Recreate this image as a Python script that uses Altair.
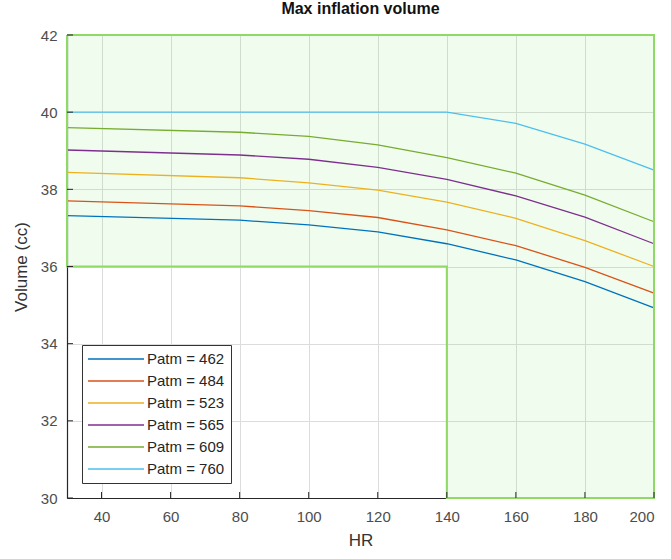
import altair as alt
import pandas as pd

# Heart rate samples and the maximum inflation volume for each atmospheric pressure
hr = [30, 80, 100, 120, 140, 160, 180, 200]
patm_labels = ["Patm = 462", "Patm = 484", "Patm = 523", "Patm = 565", "Patm = 609", "Patm = 760"]
v462 = [37.32, 37.20, 37.08, 36.90, 36.59, 36.17, 35.61, 34.93]
v484 = [37.70, 37.57, 37.45, 37.27, 36.95, 36.54, 35.98, 35.31]
v523 = [38.44, 38.30, 38.17, 37.98, 37.67, 37.25, 36.67, 36.00]
v565 = [39.02, 38.89, 38.78, 38.57, 38.26, 37.83, 37.28, 36.59]
v609 = [39.60, 39.48, 39.37, 39.15, 38.82, 38.42, 37.85, 37.16]
v760 = [40.00, 40.00, 40.00, 40.00, 40.00, 39.71, 39.17, 38.50]
series = [v462, v484, v523, v565, v609, v760]
colors = ["#0072BD", "#D95319", "#EDB120", "#7E2F8E", "#77AC30", "#4DBEEE"]

# Shaded operating region as two rectangles, plus its outline
rect_x1 = [30, 140]
rect_x2 = [200, 200]
rect_y1 = [36, 30]
rect_y2 = [42, 36]
edge_x = [30, 200, 200, 140, 140, 30, 30]
edge_y = [42, 42, 30, 30, 36, 36, 42]

x_ticks = [40, 60, 80, 100, 120, 140, 160, 180, 200]
y_ticks = [30, 32, 34, 36, 38, 40, 42]

rows = []
for lab, vals in zip(patm_labels, series):
    for h, v in zip(hr, vals):
        rows.append({"HR": h, "Volume": v, "series": lab})
lines_df = pd.DataFrame(rows)

rect_df = pd.DataFrame({"x1": rect_x1, "x2": rect_x2, "y1": rect_y1, "y2": rect_y2})
edge_df = pd.DataFrame({"x": edge_x, "y": edge_y, "i": list(range(len(edge_x)))})

xs = alt.Scale(domain=[30, 200], nice=False, zero=False)
ys = alt.Scale(domain=[30, 42], nice=False, zero=False)

FONT = "Liberation Sans"

x_axis = alt.Axis(values=x_ticks, title="HR", grid=True, gridColor="#dcdcdc",
                  tickSize=0, domainColor="#262626", domainWidth=1.2,
                  labelFont=FONT, labelFontSize=15, labelColor="#4d4d4d", labelPadding=11,
                  titleFont=FONT, titleFontSize=17, titleFontWeight="normal",
                  titleColor="#333333", titlePadding=8)
y_axis = alt.Axis(values=y_ticks, title="Volume (cc)", grid=True, gridColor="#dcdcdc",
                  tickSize=0, domainColor="#262626", domainWidth=1.2,
                  labelFont=FONT, labelFontSize=15, labelColor="#4d4d4d", labelPadding=10,
                  titleFont=FONT, titleFontSize=17, titleFontWeight="normal",
                  titleColor="#333333", titlePadding=10)

region = alt.Chart(rect_df).mark_rect(fill="#69eb55", fillOpacity=0.1).encode(
    x=alt.X("x1:Q", scale=xs, axis=x_axis),
    x2="x2:Q",
    y=alt.Y("y1:Q", scale=ys, axis=y_axis),
    y2="y2:Q",
)

edge = alt.Chart(edge_df).mark_line(color="#8fd966", strokeWidth=2).encode(
    x=alt.X("x:Q", scale=xs),
    y=alt.Y("y:Q", scale=ys),
    order="i:Q",
)

# Long horizontal line swatch for the legend entries
swatch = "M-4,0H4"

curves = alt.Chart(lines_df).mark_line(strokeWidth=1.3).encode(
    x=alt.X("HR:Q", scale=xs),
    y=alt.Y("Volume:Q", scale=ys),
    color=alt.Color("series:N", sort=patm_labels,
                    scale=alt.Scale(domain=patm_labels, range=colors),
                    legend=alt.Legend(title=None, orient="bottom-left", offset=15,
                                      symbolType=swatch, symbolSize=196,
                                      symbolStrokeWidth=1.3, symbolOffset=20,
                                      labelOffset=23,
                                      labelFont=FONT, labelFontSize=15,
                                      labelColor="#262626", rowPadding=6,
                                      fillColor="white", strokeColor="#333333",
                                      padding=6)),
)

# Inward tick marks along the bottom and left axes
xtick_df = pd.DataFrame({"x": x_ticks})
ytick_df = pd.DataFrame({"y": y_ticks})
xticks = alt.Chart(xtick_df).mark_rule(color="#262626").encode(
    x=alt.X("x:Q", scale=xs), y=alt.value(463), y2=alt.value(457))
yticks = alt.Chart(ytick_df).mark_rule(color="#262626").encode(
    y=alt.Y("y:Q", scale=ys), x=alt.value(0), x2=alt.value(6))

chart = alt.layer(region, curves, edge, xticks, yticks).properties(
    width=587, height=463,
    title=alt.TitleParams("Max inflation volume", font=FONT, fontSize=16,
                          fontWeight="bold", color="#111111", offset=11),
    autosize=alt.AutoSizeParams(type="none"),
    padding={"left": 67, "top": 35, "right": 17, "bottom": 61},
).configure_view(stroke=None)

chart.save("out.html", embed_options={"renderer": "svg", "actions": False})
